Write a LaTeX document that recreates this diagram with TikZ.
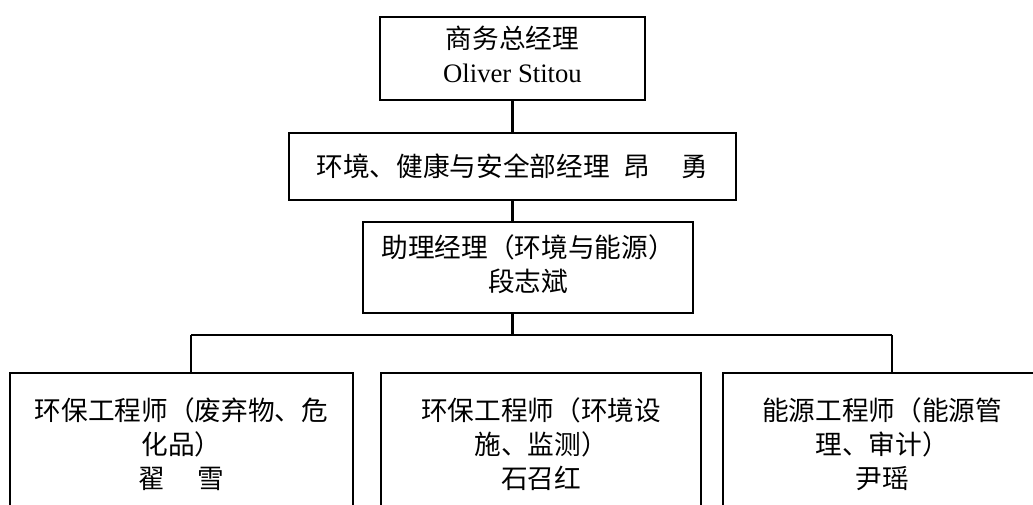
\documentclass[tikz,border=0pt]{standalone}
\usepackage{fontspec}
\setmainfont{Liberation Serif}
\newfontfamily\cjk{Noto Sans CJK SC}
\begin{document}
\begin{tikzpicture}[x=0.75pt,y=-0.75pt,
  box/.style={draw,line width=1.7pt,inner sep=0pt,align=center,
    font=\cjk\fontsize{20}{25.5}\selectfont},
  link/.style={line width=1.6pt}]
\useasboundingbox (0,0) rectangle (1033,504);
\clip (0,0) rectangle (1033,504);
\node[box,minimum width=198.75pt,minimum height=62.25pt] (top) at (512.5,58.5)
  {\raisebox{-4pt}{\begin{tabular}{@{}c@{}}商务总经理\\{\rmfamily Oliver Stitou}\end{tabular}}};
\node[box,minimum width=335.25pt,minimum height=50.25pt] (ehs) at (512.5,166.5)
  {\raisebox{-2pt}{环境、健康与安全部经理\hspace{0.5em}昂\hspace{1.2em}勇}};
\node[box,minimum width=247.5pt,minimum height=68.25pt] (asst) at (528,267.5)
  {\raisebox{-2pt}{\begin{tabular}{@{}c@{}}助理经理（环境与能源）\\段志斌\end{tabular}}};
\node[box,minimum width=257.25pt,minimum height=106.5pt] (e1) at (181.5,444)
  {环保工程师（废弃物、危\\化品）\\翟\hspace{1.2em}雪};
\node[box,minimum width=240pt,minimum height=106.5pt] (e2) at (541,444)
  {环保工程师（环境设\\施、监测）\\石召红};
\node[box,minimum width=238.5pt,minimum height=106.5pt] (e3) at (882,444)
  {能源工程师（能源管\\理、审计）\\尹瑶};
\coordinate (busL) at (191,335);
\coordinate (busR) at (892,335);
\draw[link] (top.south) -- (ehs.north -| top.south);
\draw[link] (ehs.south -| top.south) -- (asst.north -| top.south);
\draw[link] (asst.south -| top.south) -- (busL -| top.south);
\draw[link] (busL) -- (busR);
\draw[link] (busL) -- (e1.north -| busL);
\draw[link] (busR) -- (e3.north -| busR);
\end{tikzpicture}
\end{document}
